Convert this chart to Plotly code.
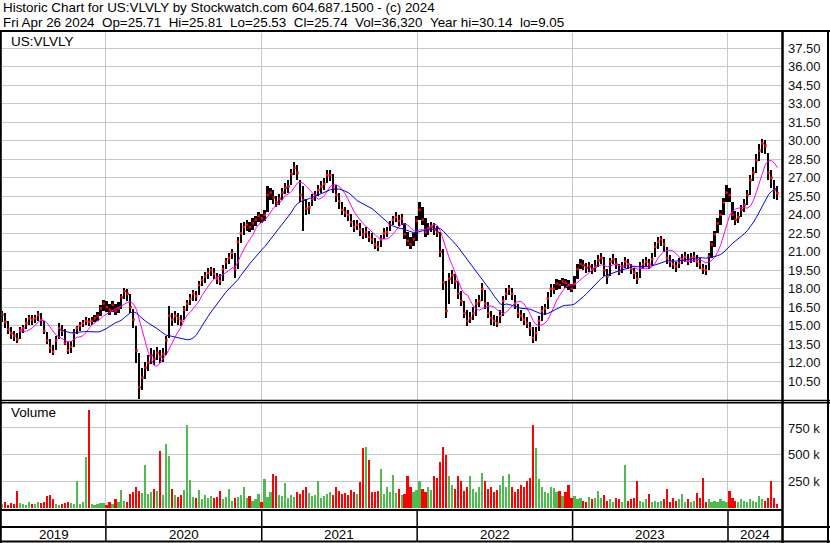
import plotly.graph_objects as go
import pandas as pd
import numpy as np

W, H = 830, 543

# ---------------- data (weekly) ----------------
week_ending = pd.date_range("2019-05-03", periods=261, freq="7D")

close = [
    15.9, 15.3, 14.7, 14.4, 14.2, 13.9, 14.6, 14.8, 15.2, 15.6,
    15.5, 15.6, 15.9, 15.5, 14.6, 13.8, 13.2, 12.9, 13.8, 14.8,
    14.6, 13.6, 13.0, 13.3, 14.4, 14.8, 15.0, 15.2, 15.4, 15.3,
    15.4, 15.6, 15.8, 16.4, 16.8, 16.5, 16.3, 16.7, 16.2, 16.4,
    17.3, 17.8, 17.6, 16.5, 15.5, 13.0, 10.0, 10.8, 11.6, 12.0,
    12.6, 12.3, 12.8, 12.5, 12.7, 13.8, 15.8, 15.5, 15.8, 15.6,
    15.4, 16.3, 16.8, 17.2, 17.6, 17.4, 18.3, 18.7, 19.0, 19.3,
    19.5, 19.2, 18.8, 18.6, 19.6, 20.2, 20.5, 20.9, 19.6, 21.8,
    22.5, 23.0, 23.2, 23.0, 23.3, 23.6, 23.9, 23.7, 24.0, 25.6,
    25.8, 25.4, 25.0, 25.3, 25.8, 26.2, 26.3, 27.3, 27.8, 27.4,
    25.6, 25.2, 24.5, 24.6, 25.3, 25.6, 26.0, 26.3, 26.5, 27.2,
    27.2, 26.2, 25.6, 25.1, 24.4, 24.2, 24.0, 23.4, 23.0, 23.2,
    22.8, 22.4, 22.6, 22.2, 22.0, 21.6, 21.4, 22.0, 22.5, 22.6,
    23.2, 23.6, 23.8, 23.5, 23.7, 22.4, 21.9, 21.6, 22.0, 23.5,
    24.4, 23.6, 22.6, 22.9, 23.0, 22.8, 22.6, 21.0, 18.5, 16.2,
    18.8, 19.1, 18.6, 17.6, 17.0, 16.0, 15.4, 15.6, 16.0, 16.8,
    17.0, 18.0, 16.8, 16.0, 15.6, 15.4, 15.2, 15.8, 17.0, 17.6,
    18.0, 17.6, 16.8, 16.0, 15.8, 15.5, 15.2, 14.8, 14.0, 14.4,
    15.4, 16.2, 16.4, 17.2, 18.0, 18.0, 18.4, 18.3, 18.6, 18.5,
    18.3, 18.0, 18.4, 19.6, 20.0, 19.9, 19.7, 19.8, 19.6, 19.8,
    20.3, 20.5, 19.5, 19.0, 20.2, 20.4, 20.0, 19.4, 19.8, 20.2,
    20.0, 19.6, 19.3, 18.8, 19.8, 20.0, 20.2, 20.0, 20.4, 21.4,
    21.8, 22.0, 21.6, 20.5, 20.2, 20.0, 19.8, 20.1, 20.4, 20.6,
    20.3, 20.5, 20.6, 20.2, 20.0, 19.6, 19.5, 20.6, 21.6, 22.4,
    23.3, 24.0, 25.0, 25.8, 25.6, 24.0, 23.6, 23.8, 24.4, 24.8,
    25.6, 26.8, 27.4, 28.4, 29.2, 29.8, 29.6, 27.4, 27.0, 26.0,
    25.74,
]

high = [
    16.2, 16.0, 15.4, 14.9, 14.6, 14.4, 14.9, 15.1, 15.6, 15.9,
    15.9, 15.9, 16.2, 16.0, 15.4, 14.5, 13.9, 13.4, 14.2, 15.2,
    15.1, 14.7, 13.7, 13.8, 14.7, 15.0, 15.3, 15.5, 15.7, 15.6,
    15.7, 15.9, 16.1, 16.7, 17.1, 17.0, 16.8, 17.0, 16.8, 16.9,
    17.6, 18.1, 18.0, 17.6, 16.4, 15.0, 12.8, 11.6, 12.1, 12.6,
    13.2, 13.0, 13.3, 13.0, 13.2, 14.2, 16.6, 16.0, 16.2, 16.0,
    15.9, 16.6, 17.1, 17.6, 17.9, 17.8, 18.6, 19.0, 19.4, 19.7,
    19.8, 19.7, 19.3, 19.2, 19.9, 20.5, 20.9, 21.2, 20.9, 22.2,
    23.3, 23.4, 23.6, 23.4, 23.7, 23.9, 24.2, 24.1, 24.4, 26.3,
    26.2, 26.0, 25.5, 25.7, 26.2, 26.6, 26.8, 27.7, 28.3, 28.0,
    26.8, 26.3, 25.3, 25.0, 25.7, 25.9, 26.4, 26.7, 27.0, 27.6,
    27.6, 27.3, 26.4, 25.8, 25.0, 24.6, 24.4, 24.1, 23.6, 23.6,
    23.3, 22.9, 23.0, 22.7, 22.5, 22.1, 21.9, 22.4, 22.9, 23.0,
    23.5, 23.9, 24.2, 24.0, 24.1, 23.3, 22.6, 22.2, 22.5, 23.9,
    25.0, 24.6, 23.7, 23.3, 23.4, 23.3, 23.1, 22.6, 21.2, 18.6,
    19.3, 19.5, 19.2, 18.6, 17.8, 17.0, 16.3, 16.1, 16.5, 17.2,
    17.5, 18.5, 17.9, 16.9, 16.2, 15.9, 15.8, 16.3, 17.4, 18.1,
    18.3, 18.1, 17.5, 16.8, 16.3, 16.0, 15.7, 15.3, 14.9, 14.9,
    15.8, 16.6, 16.8, 17.7, 18.4, 18.4, 18.8, 18.7, 18.9, 18.8,
    18.7, 18.4, 19.0, 20.0, 20.4, 20.3, 20.1, 20.2, 20.0, 20.3,
    20.7, 20.9, 20.6, 19.6, 20.5, 20.8, 20.5, 20.0, 20.2, 20.6,
    20.4, 20.0, 19.7, 19.4, 20.2, 20.4, 20.6, 20.4, 20.9, 21.8,
    22.2, 22.3, 22.0, 21.4, 20.7, 20.4, 20.2, 20.5, 20.8, 21.0,
    20.8, 20.9, 21.0, 20.7, 20.5, 20.0, 19.9, 20.9, 21.9, 22.7,
    23.7, 24.4, 25.4, 26.4, 26.2, 25.0, 24.3, 24.2, 24.8, 25.3,
    26.0, 27.2, 27.9, 28.9, 29.7, 30.14, 30.1, 29.0, 27.6, 26.8,
    26.3,
]

low = [
    15.3, 14.8, 14.3, 13.9, 13.8, 13.6, 13.9, 14.4, 14.7, 15.1,
    15.1, 15.2, 15.4, 15.0, 14.3, 13.5, 12.8, 12.6, 13.0, 13.9,
    14.2, 13.4, 12.7, 12.8, 13.3, 14.3, 14.6, 14.9, 15.1, 15.0,
    15.1, 15.3, 15.4, 15.8, 16.2, 16.1, 15.9, 16.1, 15.9, 16.0,
    16.4, 17.2, 17.0, 16.0, 14.8, 12.0, 9.05, 9.8, 10.7, 11.3,
    11.9, 11.8, 12.2, 12.0, 12.1, 12.6, 14.0, 15.0, 15.2, 15.1,
    15.0, 15.5, 16.2, 16.7, 17.0, 17.0, 17.5, 18.2, 18.5, 18.8,
    19.0, 18.8, 18.4, 18.3, 18.6, 19.6, 20.0, 20.4, 18.9, 19.6,
    21.7, 22.4, 22.7, 22.6, 22.8, 23.1, 23.4, 23.3, 23.5, 24.2,
    25.2, 24.9, 24.6, 24.8, 25.2, 25.7, 25.8, 26.4, 27.2, 26.8,
    25.0, 22.7, 24.0, 24.1, 24.7, 25.1, 25.5, 25.8, 26.0, 26.6,
    26.7, 25.8, 25.0, 24.5, 24.0, 23.8, 23.5, 23.0, 22.6, 22.8,
    22.3, 22.0, 22.1, 21.8, 21.6, 21.2, 21.1, 21.4, 22.0, 22.2,
    22.7, 23.2, 23.4, 23.1, 23.2, 22.0, 21.5, 21.2, 21.5, 21.9,
    23.6, 23.2, 22.2, 22.4, 22.6, 22.4, 22.2, 20.6, 17.9, 15.6,
    16.8, 18.4, 18.0, 17.2, 16.6, 15.6, 15.0, 15.2, 15.5, 15.8,
    16.5, 17.0, 16.4, 15.6, 15.1, 15.0, 14.9, 15.2, 15.8, 17.1,
    17.5, 17.1, 16.4, 15.6, 15.4, 15.1, 14.8, 14.2, 13.6, 13.8,
    14.6, 15.4, 15.9, 16.4, 17.3, 17.6, 17.9, 18.0, 18.2, 18.1,
    17.9, 17.7, 18.0, 18.8, 19.6, 19.5, 19.3, 19.4, 19.2, 19.4,
    19.8, 20.0, 19.0, 18.4, 19.0, 20.0, 19.6, 19.1, 19.3, 19.7,
    19.6, 19.2, 18.8, 18.4, 18.9, 19.6, 19.8, 19.6, 19.9, 20.6,
    21.2, 21.5, 21.0, 20.0, 19.8, 19.6, 19.4, 19.7, 20.0, 20.2,
    19.9, 20.1, 20.2, 19.8, 19.6, 19.2, 19.1, 19.5, 20.5, 21.4,
    22.5, 23.2, 24.0, 25.0, 25.0, 23.6, 23.2, 23.3, 23.8, 24.2,
    24.8, 25.6, 26.7, 27.4, 28.4, 29.0, 28.9, 26.8, 26.2, 25.3,
    25.2,
]

volume_k = [
    40, 60, 30, 45, 35, 160, 50, 40, 30, 55,
    35, 40, 60, 45, 60, 110, 120, 80, 40, 30,
    35, 50, 60, 45, 40, 255, 35, 60, 480, 920,
    40, 30, 35, 50, 45, 30, 60, 40, 80, 60,
    170, 70, 60, 130, 150, 200, 160, 140, 400, 130,
    150, 180, 160, 530, 120, 600, 490, 180, 120, 100,
    120, 170, 780, 260, 100, 90, 170, 80, 120, 90,
    110, 90, 100, 160, 80, 100, 180, 70, 90, 100,
    120, 200, 90, 110, 70, 80, 130, 60, 270, 100,
    150, 320, 300, 120, 110, 230, 90, 120, 100, 150,
    130, 170, 200, 140, 110, 120, 250, 90, 110, 130,
    150, 120, 200, 160, 130, 140, 120, 170, 150, 130,
    240, 560, 570, 450, 150, 150, 160, 370, 130, 200,
    150, 310, 140, 180, 120, 130, 300, 200, 150, 170,
    250, 180, 150, 200, 170, 300, 280, 430, 570, 500,
    300, 220, 180, 300, 250, 160, 200, 300, 180, 150,
    200, 330, 250, 180, 200, 150, 170, 220, 300, 200,
    320, 200, 150, 180, 220, 200, 250, 280, 780, 560,
    270, 200, 150, 140, 200, 190, 150, 160, 110, 150,
    220, 90, 110, 80, 90, 70, 60, 100, 80, 90,
    160, 90, 120, 70, 80, 60, 90, 80, 60, 400,
    70, 80, 90, 250, 70, 60, 80, 130, 60, 70,
    60, 70, 80, 180, 60, 90, 70, 80, 130, 60,
    80, 60, 70, 140, 90, 280, 60, 80, 60, 70,
    60, 80, 70, 60, 160, 90, 70, 60, 80, 70,
    60, 80, 70, 60, 115, 80, 70, 90, 250, 90, 40,
]

price_ticks = [10.5, 12.0, 13.5, 15.0, 16.5, 18.0, 19.5, 21.0, 22.5, 24.0,
               25.5, 27.0, 28.5, 30.0, 31.5, 33.0, 34.5, 36.0, 37.5]
volume_ticks = [250, 500, 750]
volume_tick_labels = ["250 k", "500 k", "750 k"]
year_labels = ["2019", "2020", "2021", "2022", "2023", "2024"]

title_line1 = "Historic Chart for US:VLVLY by Stockwatch.com 604.687.1500 - (c) 2024"
title_line2 = ("Fri Apr 26 2024\u00a0\u00a0Op=25.71\u00a0\u00a0Hi=25.81\u00a0\u00a0Lo=25.53"
               "\u00a0\u00a0Cl=25.74\u00a0\u00a0Vol=36,320\u00a0\u00a0Year hi=30.14\u00a0\u00a0lo=9.05")

# ---------------- derived ----------------
ma_fast = pd.Series(close).rolling(7).mean()
ma_slow = pd.Series(close).rolling(20).mean()
vol_colors = ["#4DBB4D"] + ["#4DBB4D" if c >= p else "#FF0000"
                            for p, c in zip(close[:-1], close[1:])]

x_start = pd.Timestamp("2019-05-02")
x_end = pd.Timestamp("2024-05-06 20:00")
year_starts = [pd.Timestamp(f"{y}-01-01") for y in range(2020, 2025)]
bounds = [x_start] + year_starts + [x_end]
year_mid = [bounds[i] + (bounds[i + 1] - bounds[i]) / 2 for i in range(len(year_labels))]

FONT = "Liberation Sans, Arial, sans-serif"
GRID = "#C8C8C8"
bar_ms = 3.9 * 86400000


def px(p):
    return p / W


def py(p):
    return 1 - p / H


fig = go.Figure()
fig.add_trace(go.Bar(x=week_ending, base=low, y=np.array(high) - np.array(low),
                     width=bar_ms, marker=dict(color="black", line=dict(width=0)),
                     xaxis="x", yaxis="y", hoverinfo="skip"))
fig.add_trace(go.Scatter(x=week_ending, y=close, mode="markers",
                         marker=dict(symbol="square", size=2.5, color="#FF0000", line=dict(width=0)),
                         xaxis="x", yaxis="y", hoverinfo="skip"))
fig.add_trace(go.Scatter(x=week_ending, y=ma_fast, mode="lines",
                         line=dict(color="#FF00FF", width=1), xaxis="x", yaxis="y"))
fig.add_trace(go.Scatter(x=week_ending, y=ma_slow, mode="lines",
                         line=dict(color="#0000FF", width=1), xaxis="x", yaxis="y"))
fig.add_trace(go.Bar(x=week_ending, y=volume_k, width=bar_ms,
                     marker=dict(color=vol_colors, line=dict(width=0)),
                     xaxis="x2", yaxis="y2", hoverinfo="skip"))

xcommon = dict(domain=[px(2), px(782)], range=[x_start, x_end], type="date",
               tickvals=year_starts, showticklabels=False, showgrid=True,
               gridcolor=GRID, gridwidth=1, zeroline=False, showline=False, ticks="")

shapes = []


def hline(y, x0=0, x1=W, w=2):
    shapes.append(dict(type="line", xref="paper", yref="paper", x0=px(x0), x1=px(x1),
                       y0=py(y), y1=py(y), line=dict(color="black", width=w)))


def vline(x, y0, y1, w=2):
    shapes.append(dict(type="line", xref="paper", yref="paper", x0=px(x), x1=px(x),
                       y0=py(y0), y1=py(y1), line=dict(color="black", width=w)))


hline(31, w=2)
hline(400.5, w=1.5)
hline(402.8, w=1.5)
hline(510, x1=783, w=2)
hline(527, w=2)
hline(541.5, w=2)
vline(0.8, 31, 543, w=2)
vline(782.5, 31, 543, w=2.5)
vline(828, 31, 543, w=2)
for ys in year_starts:
    shapes.append(dict(type="line", xref="x", yref="paper", x0=ys, x1=ys,
                       y0=py(510), y1=py(542), line=dict(color="black", width=1.5)))

TS = 13.4
annotations = [
    dict(text=title_line1, x=px(1), y=py(7.5), xref="paper", yref="paper",
         xanchor="left", yanchor="middle", showarrow=False,
         font=dict(family=FONT, size=TS, color="black")),
    dict(text=title_line2, x=px(1), y=py(22), xref="paper", yref="paper",
         xanchor="left", yanchor="middle", showarrow=False,
         font=dict(family=FONT, size=TS, color="black")),
    dict(text="US:VLVLY", x=px(9), y=py(41.5), xref="paper", yref="paper",
         xanchor="left", yanchor="middle", showarrow=False,
         font=dict(family=FONT, size=13.5, color="black")),
    dict(text="Volume", x=px(9), y=py(413), xref="paper", yref="paper",
         xanchor="left", yanchor="middle", showarrow=False,
         font=dict(family=FONT, size=13.5, color="black")),
]
for lab, xm in zip(year_labels, year_mid):
    annotations.append(dict(text=lab, x=xm, y=py(534.5), xref="x", yref="paper",
                            xanchor="center", yanchor="middle", showarrow=False,
                            font=dict(family=FONT, size=13.3, color="black")))

fig.update_layout(
    width=W, height=H, margin=dict(l=0, r=0, t=0, b=0),
    paper_bgcolor="white", plot_bgcolor="white", showlegend=False,
    barmode="overlay", bargap=0,
    font=dict(family=FONT, size=13, color="black"),
    xaxis=dict(anchor="y", **xcommon),
    xaxis2=dict(anchor="y2", matches="x", **xcommon),
    yaxis=dict(domain=[py(400), py(33)], range=[8.98, 38.74], side="right", anchor="x",
               tickvals=price_ticks, ticktext=[f"{v:.2f}" for v in price_ticks],
               showgrid=True, gridcolor=GRID, gridwidth=1, zeroline=False, showline=False,
               ticks="", ticklabelstandoff=5,
               tickfont=dict(family=FONT, size=13, color="#111111")),
    yaxis2=dict(domain=[py(508), py(403)], range=[0, 984], side="right", anchor="x2",
                tickvals=volume_ticks, ticktext=volume_tick_labels,
                showgrid=True, gridcolor=GRID, gridwidth=1, zeroline=False, showline=False,
                ticks="", ticklabelstandoff=5,
                tickfont=dict(family=FONT, size=13, color="#111111")),
    shapes=shapes,
    annotations=annotations,
)

fig.write_html("out.html", config={"displayModeBar": False},
               post_script="document.body.style.margin='0px';document.body.style.padding='0px';"
                           "document.body.style.overflow='hidden';")
